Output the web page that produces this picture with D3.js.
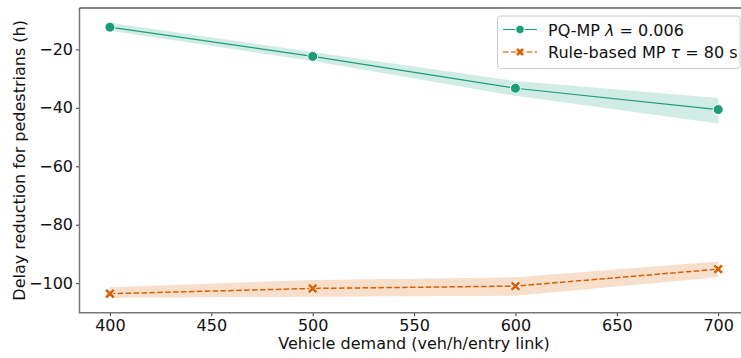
<!DOCTYPE html>
<html><head><meta charset="utf-8">
<script src="https://cdn.jsdelivr.net/npm/d3@7"></script>
<style>body{margin:0;background:#fff;} svg{display:block;font-family:"DejaVu Sans",sans-serif;}</style>
</head><body>
<svg id="c" width="741" height="358"></svg>
<script>
const demand = [400, 500, 600, 700];
const pqMean = [-12.4, -22.4, -33.3, -40.6];
const pqLow  = [-13.6, -24.0, -35.9, -45.4];
const pqHigh = [-10.9, -20.9, -30.8, -36.6];
const rbMean = [-103.6, -101.8, -101.0, -95.2];
const rbLow  = [-105.0, -104.6, -104.3, -98.0];
const rbHigh = [-101.4, -98.9, -98.0, -92.6];
const xTicks = [400, 450, 500, 550, 600, 650, 700];
const yTicks = [-20, -40, -60, -80, -100];
const legendLabels = ["PQ-MP", "Rule-based MP"];

const green = "#1b9e77", orange = "#d95f02";
const FS = 16;
const svg = d3.select("#c");
const L = 79.5, R = 748.6, T = 8, B = 312.7;
const x = d3.scaleLinear().domain([385, 715]).range([L, R]);
const y = d3.scaleLinear().domain([-110.1, -5.84]).range([B, T]);

const area = (lo, hi) => d3.area().x((d,i)=>x(demand[i])).y0((d,i)=>y(lo[i])).y1((d,i)=>y(hi[i]))(demand);
const line = (m) => d3.line().x((d,i)=>x(demand[i])).y((d,i)=>y(m[i]))(demand);

svg.append("path").attr("d", area(pqLow, pqHigh)).attr("fill", green).attr("fill-opacity", 0.2);
svg.append("path").attr("d", area(rbLow, rbHigh)).attr("fill", orange).attr("fill-opacity", 0.2);
svg.append("path").attr("d", line(pqMean)).attr("fill","none").attr("stroke", green).attr("stroke-width", 1.2);
svg.append("path").attr("d", line(rbMean)).attr("fill","none").attr("stroke", orange).attr("stroke-width", 1.5).attr("stroke-dasharray","5.5,2.4");

svg.selectAll(".pt").data(demand).enter().append("circle")
  .attr("cx", d=>x(d)).attr("cy", (d,i)=>y(pqMean[i])).attr("r", 5)
  .attr("fill", green).attr("stroke","#fff").attr("stroke-width",1);

function xMark(g, cx, cy, s) {
  g.append("path").attr("d", `M${cx-s},${cy-s}L${cx+s},${cy+s}M${cx-s},${cy+s}L${cx+s},${cy-s}`)
   .attr("stroke","#fff").attr("stroke-width",4.2).attr("stroke-linecap","butt");
  g.append("path").attr("d", `M${cx-s},${cy-s}L${cx+s},${cy+s}M${cx-s},${cy+s}L${cx+s},${cy-s}`)
   .attr("stroke",orange).attr("stroke-width",2.6).attr("stroke-linecap","butt");
}
demand.forEach((d,i)=>xMark(svg, x(d), y(rbMean[i]), 3.8));

// axes
const xa = svg.append("g").attr("transform",`translate(0,${B})`)
  .call(d3.axisBottom(x).tickValues(xTicks).tickSize(3.5).tickPadding(3.5).tickFormat(d3.format("d")));
const ya = svg.append("g").attr("transform",`translate(${L},0)`)
  .call(d3.axisLeft(y).tickValues(yTicks).tickSize(3.5).tickPadding(3).tickFormat(d=>"\u2212"+Math.abs(d)));
[xa, ya].forEach(a=>{
  a.select(".domain").remove();
  a.selectAll("line").attr("stroke","#333").attr("stroke-width",1);
  a.selectAll("text").attr("font-size",FS).attr("fill","#111").attr("font-family","DejaVu Sans");
});
svg.append("line").attr("x1",L).attr("x2",L).attr("y1",T).attr("y2",B).attr("stroke","#777").attr("stroke-width",1.5);
svg.append("line").attr("x1",L-0.75).attr("x2",741).attr("y1",B).attr("y2",B).attr("stroke","#777").attr("stroke-width",1.5);
svg.append("line").attr("x1",L).attr("x2",741).attr("y1",T).attr("y2",T).attr("stroke","#111").attr("stroke-width",1.2);

svg.append("text").attr("x",(L+R)/2).attr("y",348.5).attr("text-anchor","middle").attr("font-size",FS).attr("fill","#111")
  .text("Vehicle demand (veh/h/entry link)");
svg.append("text").attr("transform",`translate(25,${(T+B)/2}) rotate(-90)`).attr("text-anchor","middle").attr("font-size",FS).attr("fill","#111")
  .text("Delay reduction for pedestrians (h)");

// legend
const lg = svg.append("g");
lg.append("rect").attr("x",497.5).attr("y",16).attr("width",242.5).attr("height",52.5).attr("rx",3)
  .attr("fill","#fff").attr("fill-opacity",0.8).attr("stroke","#ccc").attr("stroke-width",1);
const r1 = 29.5, r2 = 52;
lg.append("line").attr("x1",503).attr("x2",537).attr("y1",r1).attr("y2",r1).attr("stroke",green).attr("stroke-width",1.2);
lg.append("circle").attr("cx",520).attr("cy",r1).attr("r",4.3).attr("fill",green).attr("stroke","#fff").attr("stroke-width",1);
lg.append("line").attr("x1",503).attr("x2",537).attr("y1",r2).attr("y2",r2).attr("stroke",orange).attr("stroke-width",1.5).attr("stroke-dasharray","5.5,2.4").attr("stroke-opacity",0.8);
xMark(lg, 520, r2, 3);
const t1 = lg.append("text").attr("x",548).attr("y",r1+6).attr("font-size",FS).attr("fill","#111");
t1.append("tspan").text(legendLabels[0] + " ");
t1.append("tspan").attr("font-style","italic").text("\u03bb");
t1.append("tspan").text(" = 0.006");
const t2 = lg.append("text").attr("x",548).attr("y",r2+6).attr("font-size",FS).attr("fill","#111");
t2.append("tspan").text(legendLabels[1] + " ");
t2.append("tspan").attr("font-style","italic").text("\u03c4");
t2.append("tspan").text(" = 80 s");
</script>
</body></html>
